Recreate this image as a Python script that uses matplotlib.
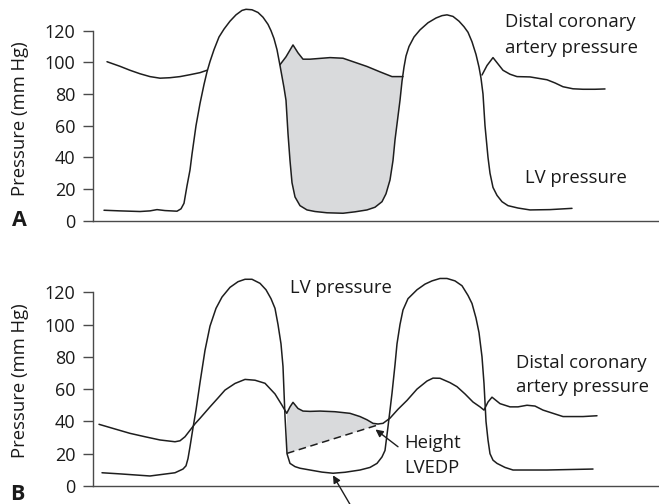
import numpy as np
import matplotlib
matplotlib.use("Agg")
import matplotlib.pyplot as plt

plt.rcParams['font.family'] = ['Open Sans', 'DejaVu Sans']

# ---------------- Data (time in arbitrary units, pressure in mm Hg) ----------------
# Panel A: LV pressure
lvA_t = [104, 120, 140, 150, 157, 165, 177, 181, 184, 187, 190, 192, 196, 200, 204, 207, 210, 214, 219, 224,
         230, 236, 242, 246, 252, 258, 263, 268, 271, 274, 277, 280, 282, 284, 286, 288, 290, 292, 295,
         300, 307, 315, 327, 343, 355, 367, 375, 382, 386, 390, 393, 395, 398, 400, 402, 404, 406, 409,
         414, 420, 428, 436, 442, 447, 453, 459, 464, 468, 472, 476, 479, 481, 483, 485, 488, 490, 493,
         497, 502, 508, 518, 530, 550, 572]
lvA_p = [6.6, 6.2, 5.8, 6.2, 7.0, 6.4, 6.0, 7.5, 11, 22, 32, 42, 60, 74, 86, 94, 100.5, 108, 116, 121,
         126, 130, 132.8, 133.5, 133.2, 131.5, 128.5, 124, 120, 115, 108, 98, 91, 84, 76, 55, 38, 24, 15,
         9.5, 6.8, 5.8, 5.0, 4.7, 5.6, 6.8, 8.5, 12, 17, 25.7, 38, 51, 66, 76, 88, 97, 104, 110,
         116, 120.5, 125, 128, 129.5, 130, 129, 126, 122.5, 119, 113, 105, 97, 90, 80, 60, 40, 30, 21,
         16, 12, 9.5, 8, 6.8, 7.0, 7.8]

# Panel A: distal coronary artery pressure (visible segments)
corA1_t = [107, 120, 130, 140, 150, 160, 170, 180, 190, 200, 207]
corA1_p = [100.4, 97.5, 95, 92.8, 91, 90, 90.3, 91, 92.2, 93.5, 95]
corA2_t = [280, 286, 293, 298, 303, 310, 320, 330, 343, 355, 367, 380, 392, 403]
corA2_p = [98.5, 103.5, 111, 106, 102, 102, 102.5, 103, 102.6, 100, 97.4, 94, 91, 91]
corA3_t = [482, 487, 493, 498, 503, 510, 517, 530, 547, 555, 563, 573, 583, 595, 605]
corA3_p = [92, 98, 103, 99, 95, 92.5, 91, 90.8, 89, 87, 84.6, 83.3, 83, 83, 83.2]

# Panel B: LV pressure
lvB_t = [102, 120, 150, 175, 183, 186, 188, 190, 193, 196, 200, 205, 210, 216, 222, 230, 238, 245, 252,
         260, 266, 271, 275, 278, 281, 283, 285, 287, 290, 295, 300, 310, 322, 333, 345, 360, 370, 377,
         382, 385, 388, 390, 392, 395, 397, 400, 403, 408, 417, 425, 432, 440, 447, 455, 462, 468, 472,
         476, 479, 482, 484, 486, 488, 490, 493, 497, 505, 513, 530, 547, 570, 593]
lvB_p = [8.2, 7.5, 6.2, 8.2, 10.5, 12.5, 17, 24.3, 36, 47, 64, 84, 99, 110, 117, 123, 126.5, 128, 128,
         125.5, 121.5, 116, 110, 100, 88, 74, 43, 20, 14, 12, 11, 9.9, 8.6, 7.9, 8.5, 9.9, 11.5, 14,
         18, 22, 36.7, 47, 57.4, 75, 88, 100, 109, 116, 121.5, 125, 127, 128.5, 128.5, 127, 124, 118, 113,
         104, 95, 80, 63.5, 40, 28.5, 20, 16, 14, 11.5, 9.9, 9.9, 9.9, 10.2, 10.5]

# Panel B: distal coronary artery pressure
corB_t = [99, 115, 130, 145, 160, 175, 180, 185, 190, 195, 200, 210, 218, 225, 235, 245, 255, 265, 275,
          282, 286.7, 290, 293, 298, 303, 310, 320, 335, 350, 360, 367, 373, 378, 383, 390, 398, 407,
          417, 427, 433, 440, 450, 457, 465, 473, 480, 484, 488, 492, 500, 510, 518, 527, 535, 543,
          553, 563, 573, 583, 597]
corB_p = [38.2, 35.3, 32.6, 30.5, 28.5, 27.4, 28, 30.5, 34.5, 38.5, 41.9, 49, 54.5, 59.4, 63.5, 66, 65.5,
          63.6, 57, 50, 45, 49, 51.8, 48, 46.4, 46.2, 46.4, 46, 45, 43, 41, 38.8, 38.4, 38.8, 42, 47.5, 53,
          60, 65, 66.8, 66.7, 64, 61.5, 57, 52, 49, 47, 52, 55, 51, 49, 49, 50, 49.5, 47,
          45, 43, 43, 43, 43.5]

# Panel B: LVEDP height line (dashed)
lvedp_t = [287, 380]
lvedp_p = [20.2, 38.2]

yticks = [0, 20, 40, 60, 80, 100, 120]

# ---------------- Figure ----------------
W, H = 659, 504
fig = plt.figure(figsize=(W / 100, H / 100), dpi=100)

line_kw = dict(color='#1e1e1e', lw=1.1, solid_capstyle='round')
fill_col = '#d9dadc'
txt_col = '#1a1a1a'
axis_col = '#4a4a4a'


def setup(ax):
    ax.set_facecolor('none')
    ax.set_xlim(93, 659)
    for s in ['top', 'right']:
        ax.spines[s].set_visible(False)
    ax.spines['left'].set_bounds(0, 120)
    ax.spines['bottom'].set_position(('data', 0))
    for s in ['left', 'bottom']:
        ax.spines[s].set_color(axis_col)
        ax.spines[s].set_linewidth(1.0)
    ax.set_xticks([])
    ax.set_yticks(yticks)
    ax.tick_params(axis='y', length=7.2, width=1.0, color=axis_col, pad=5.5,
                   labelsize=13, labelcolor=txt_col)


# Panel A
axA = fig.add_axes([93 / W, 1 - 235 / H, 1 - 93 / W, 235 / H])
axA.set_ylim(-(235 - 220.7) / 1.5835, 220.7 / 1.5835)
setup(axA)

polyA_t = corA2_t + [t for t in lvA_t if 280 <= t <= 403][::-1]
polyA_p = corA2_p + [p for t, p in zip(lvA_t, lvA_p) if 280 <= t <= 403][::-1]
axA.fill(polyA_t, polyA_p, color=fill_col, lw=0, zorder=1)
axA.plot(lvA_t, lvA_p, zorder=3, **line_kw)
axA.plot(corA1_t, corA1_p, zorder=3, **line_kw)
axA.plot(corA2_t, corA2_p, zorder=3, **line_kw)
axA.plot(corA3_t, corA3_p, zorder=3, **line_kw)

axA.text(505, 125.5, 'Distal coronary', fontsize=13.3, color=txt_col, ha='left', va='center')
axA.text(505, 109.0, 'artery pressure', fontsize=13.3, color=txt_col, ha='left', va='center')
axA.text(525, 27.0, 'LV pressure', fontsize=13.3, color=txt_col, ha='left', va='center')

# Panel B
axB = fig.add_axes([93 / W, 1 - 500 / H, 1 - 93 / W, 250 / H])
axB.set_ylim(-(500 - 486) / 1.615, (486 - 250) / 1.615)
setup(axB)

cor_seg = [(t, p) for t, p in zip(corB_t, corB_p) if 287 <= t <= 380]
polyB_t = [lvedp_t[0]] + [t for t, p in cor_seg] + [lvedp_t[1]]
polyB_p = [45.5] + [p for t, p in cor_seg] + [lvedp_p[1]]
polyB_t = polyB_t + [lvedp_t[0]]
polyB_p = polyB_p + [lvedp_p[0]]
axB.fill(polyB_t, polyB_p, color=fill_col, lw=0, zorder=1)
axB.plot(lvB_t, lvB_p, zorder=3, **line_kw)
axB.plot(corB_t, corB_p, zorder=3, **line_kw)
axB.plot(lvedp_t, lvedp_p, color='#1e1e1e', lw=1.1, ls=(0, (5, 3)), zorder=3)

axB.text(290, 122.4, 'LV pressure', fontsize=13.3, color=txt_col, ha='left', va='center')
axB.text(516, 76.0, 'Distal coronary', fontsize=13.3, color=txt_col, ha='left', va='center')
axB.text(516, 61.5, 'artery pressure', fontsize=13.3, color=txt_col, ha='left', va='center')
axB.text(404, 26.8, 'Height', fontsize=13.3, color=txt_col, ha='left', va='center')
axB.text(404, 11.0, 'LVEDP', fontsize=13.3, color=txt_col, ha='left', va='center')

arrow_kw = dict(arrowstyle='-|>', color='#1e1e1e', lw=1.0, mutation_scale=11,
                shrinkA=0, shrinkB=0)
axB.annotate('', xy=(375.5, 35.0), xytext=(398, 24.3), arrowprops=arrow_kw,
             annotation_clip=False)
axB.annotate('', xy=(333, 6.6), xytext=(352, -13.5), arrowprops=arrow_kw,
             annotation_clip=False)

# Panel letters and y labels
fig.text(12 / W, 1 - 221 / H, 'A', fontsize=15.5, fontweight='bold', color=txt_col,
         ha='left', va='center')
fig.text(10 / W, 1 - 495 / H, 'B', fontsize=15.5, fontweight='bold', color=txt_col,
         ha='left', va='center')
fig.text(20 / W, 1 - 119 / H, 'Pressure (mm Hg)', fontsize=13.3, color=txt_col,
         rotation=90, ha='center', va='center')
fig.text(20 / W, 1 - 381 / H, 'Pressure (mm Hg)', fontsize=13.3, color=txt_col,
         rotation=90, ha='center', va='center')

fig.savefig('out.png', dpi=100)
